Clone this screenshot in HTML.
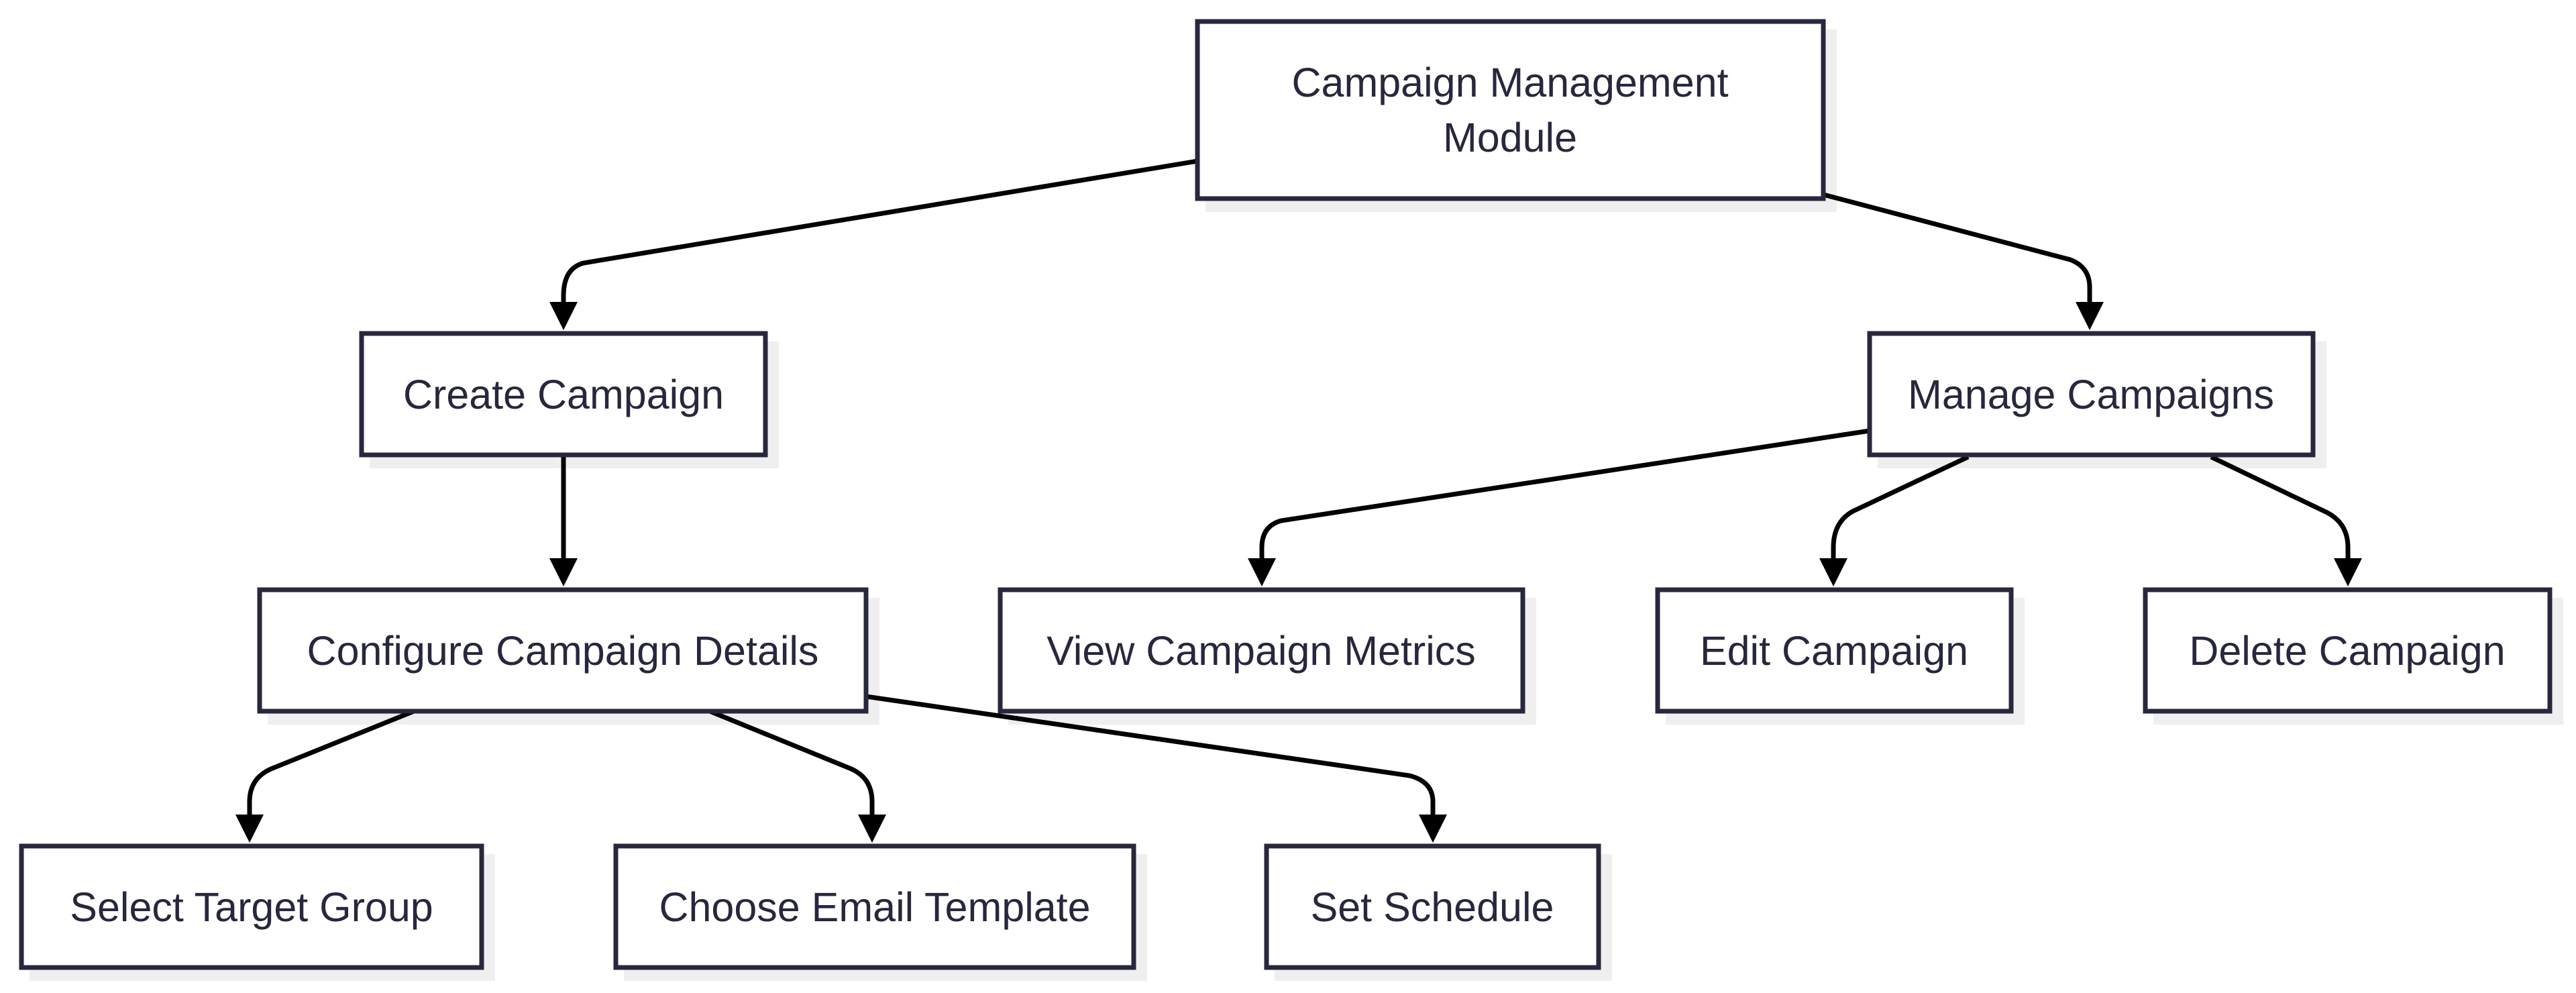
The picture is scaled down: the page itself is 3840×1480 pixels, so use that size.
<!DOCTYPE html>
<html><head><meta charset="utf-8"><style>
html,body{margin:0;padding:0;background:#fff;}
svg{display:block;}
text{font-family:"Liberation Sans",sans-serif;font-size:61px;fill:#27273d;text-anchor:middle;dominant-baseline:central;}
.b{fill:#fff;stroke:#27273d;stroke-width:7;}
.s{fill:#efefef;}
.e{fill:none;stroke:#000;stroke-width:7;}
</style></head><body>
<svg width="3840" height="1480" viewBox="0 0 3840 1480" xmlns="http://www.w3.org/2000/svg">
<defs><marker id="a" markerWidth="50" markerHeight="42" refX="0" refY="21" orient="auto" markerUnits="userSpaceOnUse"><path d="M0,0 L42,21 L0,42 z" fill="#000"/></marker></defs>
<!-- shadows -->
<rect class="s" x="1797" y="44" width="941" height="272"/>
<rect class="s" x="551" y="509" width="610" height="189"/>
<rect class="s" x="2799" y="509" width="669" height="189"/>
<rect class="s" x="399" y="891" width="912" height="189"/>
<rect class="s" x="1503" y="891" width="787" height="189"/>
<rect class="s" x="2483" y="891" width="535" height="189"/>
<rect class="s" x="3210" y="891" width="611" height="189"/>
<rect class="s" x="44" y="1273" width="694" height="189"/>
<rect class="s" x="930" y="1273" width="780" height="189"/>
<rect class="s" x="1900" y="1273" width="503" height="189"/>
<!-- edges -->
<path class="e" marker-end="url(#a)" d="M1785,240 L870,392 Q840,400 840,441 L840,450"/>
<path class="e" marker-end="url(#a)" d="M2718,290 L3086,387 Q3115,398 3115,428 L3115,450"/>
<path class="e" marker-end="url(#a)" d="M840,678 L840,832"/>
<path class="e" marker-end="url(#a)" d="M2787,642 L1910,776 Q1881,784 1881,816 L1881,832"/>
<path class="e" marker-end="url(#a)" d="M2934,681 L2762,762 Q2733,778 2733,816 L2733,832"/>
<path class="e" marker-end="url(#a)" d="M3296,681 L3465,762 Q3500,778 3500,816 L3500,832"/>
<path class="e" marker-end="url(#a)" d="M617,1060 L404,1146 Q372,1160 372,1195 L372,1214"/>
<path class="e" marker-end="url(#a)" d="M1058,1060 L1269,1146 Q1300,1160 1300,1195 L1300,1214"/>
<path class="e" marker-end="url(#a)" d="M1291,1038 L2101,1156 Q2136,1165 2136,1195 L2136,1214"/>
<!-- boxes -->
<rect class="b" x="1785" y="32" width="933" height="264"/>
<text x="2251" y="123">Campaign Management</text>
<text x="2251" y="205">Module</text>
<rect class="b" x="539" y="497" width="602" height="181"/>
<text x="840" y="588">Create Campaign</text>
<rect class="b" x="2787" y="497" width="661" height="181"/>
<text x="3117" y="588">Manage Campaigns</text>
<rect class="b" x="387" y="879" width="904" height="181"/>
<text x="839" y="970">Configure Campaign Details</text>
<rect class="b" x="1491" y="879" width="779" height="181"/>
<text x="1880" y="970">View Campaign Metrics</text>
<rect class="b" x="2471" y="879" width="527" height="181"/>
<text x="2734" y="970">Edit Campaign</text>
<rect class="b" x="3198" y="879" width="603" height="181"/>
<text x="3499" y="970">Delete Campaign</text>
<rect class="b" x="32" y="1261" width="686" height="181"/>
<text x="375" y="1352">Select Target Group</text>
<rect class="b" x="918" y="1261" width="772" height="181"/>
<text x="1304" y="1352">Choose Email Template</text>
<rect class="b" x="1888" y="1261" width="495" height="181"/>
<text x="2135" y="1352">Set Schedule</text>
</svg>
</body></html>
